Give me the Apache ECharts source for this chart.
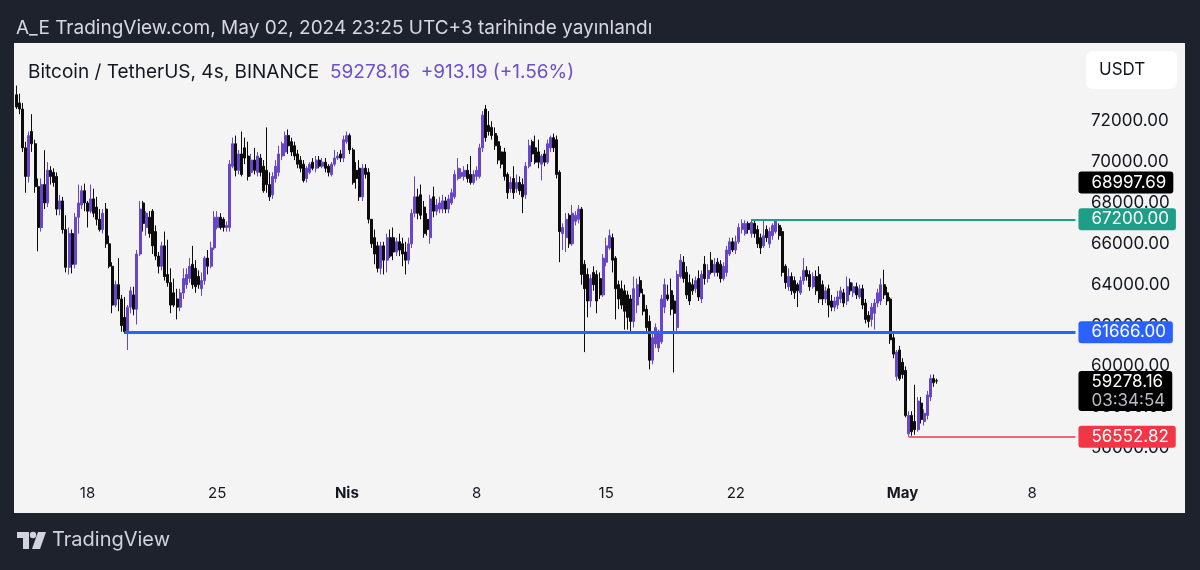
<!DOCTYPE html>
<html>
<head>
<meta charset="utf-8">
<title>BTCUSDT 4s</title>
<script src="https://cdn.jsdelivr.net/npm/echarts@6/dist/echarts.min.js"></script>
<style>
  html, body { margin: 0; padding: 0; background: #1e222d; }
  #chart { width: 1200px; height: 570px; }
</style>
</head>
<body>
<div id="chart"></div>
<script>
// 4h bars: [open, close, low, high]
const candles = [
  [73300,72700,72600,73750],[72900,72600,72350,73350],[72600,70700,70500,72900],[70700,69300,68500,71000],[69300,71300,69000,71500],[71500,70900,70500,72350],
  [70900,68800,68500,71100],[68800,66800,65630,69200],[66800,68900,66600,69200],[68900,68000,67700,70585],[68000,69600,67800,70000],[69600,69300,68900,69800],
  [69500,69000,68800,69700],[69300,67700,67400,69500],[67700,68100,67400,68400],[68100,66700,66500,68300],[66700,64850,64600,67400],[64850,66500,64500,66800],
  [66500,65000,64550,66700],[65000,67300,64800,67500],[67300,68000,66500,68900],[67900,68600,67700,68850],[68600,68000,67600,68950],[68000,67600,66800,68100],
  [67600,68200,67500,68900],[68200,67500,67300,68700],[67800,67200,66900,68300],[67200,66700,66600,67700],[66700,67500,66500,67700],[67700,66000,65800,68000],
  [66000,64900,64800,66400],[64900,63000,62600,65100],[63000,64000,62900,64200],[64000,63300,62700,65300],[63300,62000,61700,63500],[62400,61700,61600,63400],
  [61700,62900,60800,63000],[62900,63700,62600,63900],[63500,62800,62500,63900],[62800,65500,62050,65700],[65500,67700,65400,68100],[68000,67000,66600,68100],
  [66800,67500,66400,67600],[67300,66500,66300,67600],[67600,65900,65500,67700],[66600,65400,65200,66900],[65400,64900,64550,65600],[64900,65900,64700,66100],
  [65900,64400,64200,66600],[64500,64100,63900,66200],[64100,63000,62600,64800],[63600,63000,62900,64300],[63300,62900,62300,63800],[62900,63600,62700,63800],
  [63600,64300,63300,64800],[64000,64500,63800,64800],[64300,64900,64100,65300],[65000,64000,63800,65900],[64800,63900,63600,65200],[64400,64000,63800,64700],
  [63800,64200,63450,64600],[64200,65300,64000,65400],[65300,64900,64500,65700],[64900,65800,64800,66100],[65800,67300,65700,67600],[66800,67300,66700,67600],
  [67300,66800,66700,67500],[67200,66800,66600,67300],[66800,66900,66600,67100],[66800,69900,66600,70100],[69800,70900,69700,71200],[70900,69600,69300,71300],
  [69600,70400,69400,70600],[70400,69400,69300,71500],[70700,70200,69900,71200],[70300,69300,69100,71000],[69500,70100,69300,70400],[70100,69600,69400,70700],
  [69500,70300,69300,70500],[70200,69500,69300,70400],[69800,68600,68500,70100],[69600,68900,68500,71700],[68900,68300,68100,69500],[68400,69300,68200,69500],
  [69200,69800,69000,70100],[69500,70400,69300,70800],[70300,70900,70100,71000],[70500,71300,70300,71500],[71300,70800,70400,71600],[71000,70500,70300,71200],
  [70800,70300,70100,71000],[70400,69900,69700,70600],[70100,69700,69500,70300],[69900,69100,69000,70100],[69200,69700,69000,69800],[69500,69900,69400,70000],
  [70000,69700,69600,70200],[69700,70100,69500,70300],[70100,69800,69700,70300],[69800,70000,69700,70200],[70000,69700,69500,70200],[69800,69500,69300,69900],
  [69400,69900,69300,70000],[69900,70200,69800,70600],[70200,70300,70100,70500],[70400,70200,70000,70600],[70200,71100,70000,71300],[71000,71300,70900,71500],
  [71300,70600,70400,71400],[70600,69000,68900,70700],[69600,69200,68700,70000],[69700,68300,68100,70100],[68300,69700,68100,69900],[69700,69400,69200,69900],
  [69500,67200,67000,69700],[67200,66000,65800,67200],[66300,65500,65000,66700],[65900,64800,64600,66100],[64800,65900,64500,66100],[65900,65200,64500,66100],
  [65200,66300,64600,66500],[66300,65400,65300,66700],[66300,65600,65200,66800],[65600,66100,65400,66300],[66100,65700,65400,66500],[66000,65500,64900,66300],
  [65600,65200,64500,66100],[65200,66000,65000,66300],[66000,67500,65800,67700],[67500,68300,67300,69300],[68300,67500,67200,68700],[68400,67400,67200,68900],
  [67800,66500,66300,68100],[67200,66700,66400,67500],[66300,68200,66000,68400],[68300,67600,67300,68800],[67600,67900,67400,68200],[67700,68000,67500,68300],
  [67700,68100,67500,68400],[68100,67700,67500,68300],[67700,68200,67500,68400],[68000,68500,67900,68700],[68300,69400,68200,69600],[69200,69700,69100,70200],
  [69300,69500,69200,69700],[69300,69600,69100,69800],[69600,69200,69000,69900],[69400,69000,68900,70300],[69000,69400,68900,69600],[69300,69600,69100,69800],
  [69300,70700,69200,70900],[70700,72300,70500,72500],[72600,71200,71000,72800],[71800,71500,71300,72500],[71700,71300,71100,72000],[71400,70800,70600,71700],
  [71000,70100,69900,71300],[70500,69900,69700,70800],[70500,69300,69100,70700],[69400,68500,68200,69500],[68700,69000,68500,69300],[69200,68500,68200,69800],
  [68700,69000,68500,69400],[69000,68600,68400,69300],[68900,68300,67500,69200],[68400,69800,68200,70000],[69800,70800,69700,71100],[71000,70400,70000,71100],
  [70700,70000,69900,71300],[70500,70000,69700,71100],[69900,70300,69100,70400],[70400,70000,69800,70600],[70000,70900,69900,71100],[70700,71200,70500,71300],
  [71200,70700,70500,71400],[71100,69400,69200,71300],[69500,66600,65100,69600],[66500,66800,65700,67000],[66300,67200,65600,67500],[67400,66000,65800,67500],
  [66000,67500,65900,67900],[67100,67400,66900,67600],[67200,67700,67000,67900],[67700,64500,64000,67800],[65000,63800,60700,65200],[64500,63200,62400,64800],
  [63200,64300,62900,64500],[64600,64000,63700,64900],[64500,63200,62600,64700],[64300,63500,63300,64600],[63500,65300,63400,65500],[65100,65900,64900,66300],
  [65800,66400,65700,66700],[66300,65200,64600,66500],[65300,63800,62300,65400],[64000,63300,62800,64200],[63800,63000,62800,64200],[63700,62700,61800,64000],
  [63500,62400,61800,63700],[63300,62200,61700,63500],[62200,63800,61900,64400],[63000,64000,62600,64300],[64200,63600,63400,64400],[63500,62700,62500,63800],
  [62800,61900,61600,63000],[62200,60300,59850,62500],[60300,61400,60100,61600],[61100,61900,60900,62100],[60900,61700,60700,61800],[61200,63300,61100,63500],
  [62900,64000,62600,64300],[63500,63300,63200,64000],[63700,62800,62500,64300],[63200,62600,59700,63500],[61900,64500,61700,64700],[64400,65200,64300,65500],
  [65100,64300,64100,65400],[64600,63500,63300,64900],[64100,63200,63000,64500],[64000,63700,63500,64300],[63800,64200,63600,64400],[64300,63400,63200,64700],
  [63300,64500,63100,64700],[65000,64300,64000,65400],[64300,64700,64100,65000],[65200,64600,64500,65600],[64600,65000,64400,65300],[65100,64600,64400,65300],
  [65000,64300,64100,65200],[64300,64900,64200,65100],[64600,65700,64400,65900],[65500,66100,65400,66300],[66100,65700,65600,66300],[65700,66100,65500,66400],
  [66100,66800,66000,67000],[66700,67000,66500,67200],[66500,67000,66400,67150],[67000,66700,66500,67100],[66500,67050,66300,67200],[67000,66500,66300,67200],
  [66700,66000,65800,66900],[66300,65800,65500,66500],[65900,66400,65800,67150],[66700,66300,66100,66900],[66000,66600,65800,66800],[66400,66900,66200,67000],
  [66600,67100,66500,67150],[66900,66400,66200,67000],[66600,64600,64400,66800],[64900,64100,63800,65000],[63900,64400,63700,64800],[64400,63700,63500,64600],
  [64200,63600,63300,64400],[64000,63700,62900,64100],[63600,64200,63500,64400],[64200,64700,64000,65300],[64700,64400,64200,64900],[64500,63900,63700,64700],
  [63900,64400,63800,64600],[64400,63700,63500,64700],[64500,63300,63100,64900],[64000,63300,63000,64200],[63300,63700,63100,63900],[63800,63000,62400,64000],
  [63200,62900,62700,63500],[62900,63200,62700,63400],[63000,63400,62800,63700],[63300,63700,63100,63900],[63600,63100,62900,63800],[63200,63900,63000,64400],
  [64100,63700,63500,64300],[63600,63900,63400,64100],[63900,63500,63300,64100],[63400,63800,63300,64000],[63800,63000,62800,64000],[63100,62300,62100,63300],
  [62500,62200,61900,62700],[62300,62900,61950,63100],[62600,63100,61800,63300],[63100,63600,62900,63800],[63200,64000,63000,64300],[64000,63500,63300,64730],
  [63600,63200,63000,63900],[63300,61300,61100,63400],[61400,60600,60400,61600],[59500,60700,59300,60800],[60800,59400,59300,61000],[60200,59600,59400,60400],
  [59800,57600,57500,60000],[56700,57600,56552.82,57800],[57600,56800,56600,57800],[57300,56900,56650,59100],[56900,58300,56800,58500],[58200,57400,57200,58500],
  [57300,57700,57100,57900],[57600,58600,57400,58800],[58500,59400,58300,59600],[59400,59200,59000,59600],[59300,59278.16,59150,59400]
];

const tickDates = ['2024-03-18', '2024-03-25', '2024-04-01', '2024-04-08', '2024-04-15', '2024-04-22', '2024-05-01', '2024-05-08'];
const tickText = ['18', '25', 'Nis', '8', '15', '22', 'May', '8'];
const monthTicks = ['Nis', 'May'];

// horizontal levels: price and the bar they start from
const levelPrices = [61666, 67200, 56552.82];
const levelFrom = [35, 238, 289];
const prevMarker = 68997.69;
const lastPrice = 59278.16;
const lastChange = 913.19;
const lastChangePct = 1.56;
const countdown = '03:34:54';

const H4 = 4 * 3600 * 1000;
const start = Date.UTC(2024, 2, 14, 0);
const slotCount = 344;
const lastSlot = slotCount - 1;
const categories = [];
for (let i = 0; i < slotCount; i++) {
  categories.push(new Date(start + i * H4).toISOString());
}
const tickIndex = tickDates.map(d => Math.floor((Date.parse(d + 'T00:00:00+03:00') - start) / H4));

const font = 'Inter, "Noto Sans", sans-serif';
const up = '#6846cc';
const down = '#0c0c0c';
const levelColors = ['#2962ff', '#1f9e87', '#f23645'];
const levelWidths = [3, 2, 1.5];

const badge = {
  show: true,
  position: 'end',
  distance: 3,
  color: '#ffffff',
  fontSize: 17,
  fontFamily: font,
  lineHeight: 17,
  padding: [3, 7, 2, 13],
  borderRadius: 3
};

const markData = levelPrices.map((p, i) => [
  {
    coord: [levelFrom[i], p],
    lineStyle: { color: levelColors[i], width: levelWidths[i], type: 'solid' },
    label: Object.assign({}, badge, { formatter: p.toFixed(2), backgroundColor: levelColors[i] })
  },
  { coord: [lastSlot, p] }
]);
markData.push([
  {
    coord: [lastSlot - 1, prevMarker],
    lineStyle: { color: 'rgba(0,0,0,0)', width: 1 },
    label: Object.assign({}, badge, { formatter: prevMarker.toFixed(2), backgroundColor: '#000000' })
  },
  { coord: [lastSlot, prevMarker] }
]);
markData.push([
  {
    coord: [lastSlot - 1, lastPrice],
    lineStyle: { color: 'rgba(0,0,0,0)', width: 1 },
    label: Object.assign({}, badge, {
      formatter: '{p|' + lastPrice.toFixed(2) + '}\n{t|' + countdown + '}',
      backgroundColor: '#000000',
      padding: [1, 7, 1, 13],
      offset: [0, 10],
      rich: {
        p: { color: '#ffffff', fontSize: 17, lineHeight: 19, fontFamily: font },
        t: { color: '#b8bbc3', fontSize: 17, lineHeight: 19, fontFamily: font }
      }
    })
  },
  { coord: [lastSlot, lastPrice] }
]);

const chart = echarts.init(document.getElementById('chart'));
const option = {
  backgroundColor: '#1e222d',
  animation: false,
  textStyle: { fontFamily: font },
  grid: { left: 15, right: 123, top: 39.6, bottom: 81.1 },
  xAxis: {
    type: 'category',
    data: categories,
    boundaryGap: true,
    axisLine: { show: false },
    axisTick: { show: false },
    splitLine: { show: false },
    axisLabel: {
      interval: idx => tickIndex.includes(idx),
      formatter: (v, idx) => {
        const t = tickText[tickIndex.indexOf(idx)];
        return monthTicks.includes(t) ? '{m|' + t + '}' : t;
      },
      color: '#131722',
      fontSize: 15,
      fontFamily: font,
      verticalAlign: 'middle',
      margin: 5,
      rich: { m: { fontWeight: 'bold', fontSize: 15, color: '#131722', fontFamily: font } }
    }
  },
  yAxis: {
    type: 'value',
    position: 'right',
    min: 54000,
    max: 76000,
    interval: 2000,
    axisLine: { show: false },
    axisTick: { show: false },
    splitLine: { show: false },
    axisLabel: {
      formatter: v => (v < 56000 || v > 72000) ? '' : v.toFixed(2),
      color: '#131722',
      fontSize: 17,
      fontFamily: font,
      margin: 14
    }
  },
  series: [{
    type: 'candlestick',
    data: candles,
    barWidth: 2.5,
    itemStyle: { color: up, color0: down, borderColor: up, borderColor0: down, borderWidth: 1 },
    markLine: {
      silent: true,
      symbol: ['none', 'none'],
      animation: false,
      data: markData
    }
  }],
  graphic: [
    { type: 'rect', z: -10, shape: { x: 14, y: 43, width: 1171, height: 470 }, style: { fill: '#f4f4f4' } },
    { type: 'text', z: 100, x: 16, y: 28, style: { text: 'A_E TradingView.com, May 02, 2024 23:25 UTC+3 tarihinde yayınlandı', fill: '#d6d9e0', fontSize: 19, fontFamily: font, verticalAlign: 'middle' } },
    { type: 'text', z: 100, x: 28, y: 72, style: { text: 'Bitcoin / TetherUS, 4s, BINANCE', fill: '#131722', fontSize: 19, fontFamily: font, verticalAlign: 'middle' } },
    { type: 'text', z: 100, x: 330, y: 72, style: { text: lastPrice.toFixed(2) + '  +' + lastChange.toFixed(2) + ' (+' + lastChangePct.toFixed(2) + '%)', fill: '#6c4fc9', fontSize: 19, fontFamily: font, verticalAlign: 'middle' } },
    { type: 'rect', z: 100, shape: { x: 1086, y: 51, width: 91, height: 38, r: 6 }, style: { fill: '#ffffff' } },
    { type: 'text', z: 101, x: 1099, y: 70, style: { text: 'USDT', fill: '#131722', fontSize: 17, fontFamily: font, verticalAlign: 'middle' } },
    { type: 'polygon', z: 100, shape: { points: [[17, 532], [29, 532], [29, 549], [23, 549], [23, 538], [17, 538]] }, style: { fill: '#d1d4dc' } },
    { type: 'circle', z: 100, shape: { cx: 33, cy: 535, r: 3.2 }, style: { fill: '#d1d4dc' } },
    { type: 'polygon', z: 100, shape: { points: [[38, 532], [46, 532], [40, 549], [32, 549]] }, style: { fill: '#d1d4dc' } },
    { type: 'text', z: 100, x: 52, y: 540, style: { text: 'TradingView', fill: '#d1d4dc', fontSize: 20, fontFamily: font, verticalAlign: 'middle' } }
  ]
};
chart.setOption(option);
</script>
</body>
</html>
